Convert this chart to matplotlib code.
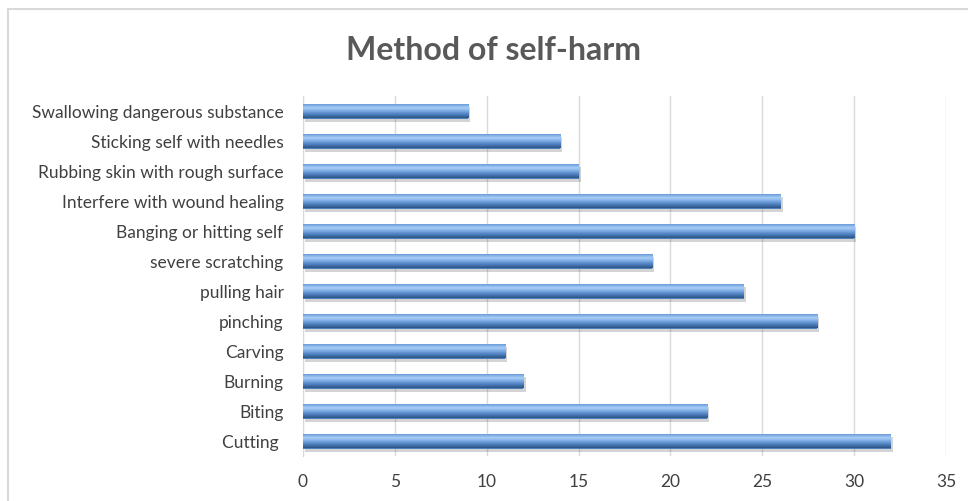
import numpy as np
import matplotlib
matplotlib.use("Agg")
import matplotlib.pyplot as plt
from matplotlib.patches import Rectangle
from matplotlib.colors import to_rgb
import matplotlib.patheffects as pe

categories = ["Cutting ", "Biting", "Burning", "Carving", "pinching", "pulling hair",
              "severe scratching", "Banging or hitting self", "Interfere with wound healing",
              "Rubbing skin with rough surface", "Sticking self with needles",
              "Swallowing dangerous substance"]
values = [32, 22, 12, 11, 28, 24, 19, 30, 26, 15, 14, 9]
xticks = [0, 5, 10, 15, 20, 25, 30, 35]
title = "Method of self-harm"

plt.rcParams['font.family'] = ['Lato', 'DejaVu Sans']

fig = plt.figure(figsize=(9.68, 5.02), dpi=100)
fig.patch.set_facecolor('white')
fig.add_artist(Rectangle((8/968, -10/502), 980/968, 502/502, transform=fig.transFigure,
                         fill=False, edgecolor='#d9d9d9', linewidth=1.5))

ax = fig.add_axes([303/968, 1-457/502, 643/968, 360/502])
y = np.arange(len(categories))
bars = ax.barh(y, values, height=0.5, color='#4f81bd', linewidth=0, zorder=3)

# vertical cylinder gradient (top -> bottom)
stops = [(0.0, '#5a8bcc'), (0.12, '#78a7e2'), (0.32, '#a9cff6'), (0.5, '#80afe6'),
         (0.75, '#4f80c0'), (1.0, '#2b5485')]
n = 64
tt = np.linspace(0, 1, n)
pos = [s[0] for s in stops]
cols = np.array([to_rgb(s[1]) for s in stops])
grad = np.stack([np.interp(tt, pos, cols[:, k]) for k in range(3)], axis=-1)
img = grad[:, None, :]

for b in bars:
    b.set_path_effects([pe.SimplePatchShadow(offset=(1.5, -2.5), alpha=0.25, shadow_rgbFace='#555555'), pe.Normal()])
    x0, y0 = b.get_x(), b.get_y()
    w, h = b.get_width(), b.get_height()
    im = ax.imshow(img, extent=[x0, x0 + w, y0, y0 + h], aspect='auto',
                   interpolation='bilinear', zorder=4, origin='upper')
    im.set_clip_path(b)

ax.set_xlim(0, 35)
ax.set_ylim(-0.5, len(categories) - 0.5)
ax.set_xticks(xticks)
ax.set_yticks(y)
ax.set_yticklabels(categories)
ax.grid(axis='x', color='#d9d9d9', linewidth=1, zorder=0)
ax.set_axisbelow(True)
for s in ['top', 'right', 'bottom']:
    ax.spines[s].set_visible(False)
ax.spines['left'].set_color('#d9d9d9')
ax.tick_params(axis='both', length=0, labelsize=12.5, colors='#404040')
ax.tick_params(axis='y', pad=14)
ax.tick_params(axis='x', pad=12)

fig.text(493/968, 1-51/502, title, ha='center', va='center', fontsize=23,
         color='#595959', fontweight='bold')

fig.savefig('out.png', dpi=100)
